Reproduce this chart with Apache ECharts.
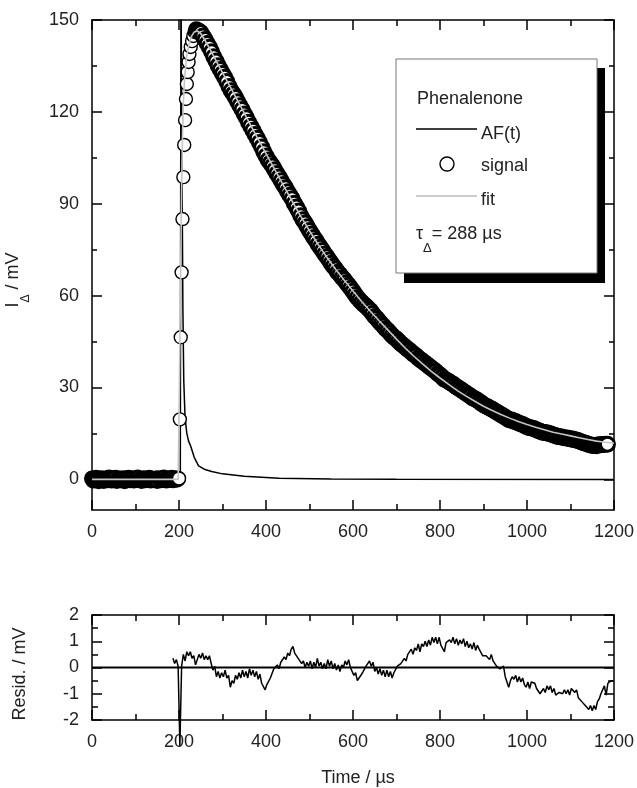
<!DOCTYPE html>
<html><head><meta charset="utf-8">
<script src="https://cdn.jsdelivr.net/npm/echarts@6/dist/echarts.min.js"></script>
<style>html,body{margin:0;padding:0;background:#fff}#c{width:637px;height:788px}</style>
</head><body><div id="c"></div>
<script>
// ---------- data ----------
// baseline circles before the laser pulse (t = 0..198 µs, every 3 µs)
const baseT0 = 0, baseDt = 3;
const baseValues = [
 0.3,-0.4,0.1,0.5,-0.2,-0.6,0.2,0.4,-0.1,-0.5,
 0.3,0.0,-0.3,0.6,0.1,-0.4,0.2,-0.2,0.5,-0.5,
 0.1,0.3,-0.3,0.0,0.4,-0.6,0.2,-0.1,0.5,-0.3,
 0.1,0.4,-0.4,-0.1,0.3,0.6,-0.2,0.0,-0.5,0.2,
 0.4,-0.3,0.1,-0.1,0.5,-0.4,0.2,0.0,-0.2,0.3,
 -0.5,0.4,0.1,-0.3,0.2,0.6,-0.1,-0.4,0.3,0.0,
 -0.2,0.5,-0.3,0.1,0.4,-0.1,0.2
];
// rising edge circles
const riseTimes  = [200,202,204,206,208,210,212,214,216,218,220,222,224,227,230,233,236];
const riseValues = [0.3,19.6,46.4,67.6,85.0,98.7,109.2,117.3,124.2,129.1,133.0,136.3,138.9,141.2,143.1,144.8,146.1];
// decay circles (t = 240..1185 µs, every 5 µs)
const decayT0 = 240, decayDt = 5;
const decayValues = [
 146.8,146.4,145.9,144.8,143.6,142.3,141.1,139.6,138.0,136.6,
 135.1,133.8,132.5,131.3,129.9,128.3,126.9,125.8,124.7,123.3,
 122.0,120.8,119.3,118.1,116.6,115.3,114.0,112.6,111.4,110.0,
 108.5,107.0,105.6,104.3,103.3,102.3,101.1,99.9,98.7,97.5,
 96.3,95.2,93.9,92.8,91.6,90.2,88.9,87.6,86.1,84.8,
 83.7,82.5,81.3,80.1,79.0,78.0,76.8,75.8,74.7,73.6,
 72.7,71.6,70.6,69.6,68.7,67.6,66.9,65.9,65.2,64.2,
 63.4,62.4,61.4,60.4,59.4,58.6,57.8,57.1,56.5,55.8,
 55.1,54.2,53.2,52.5,51.6,50.8,50.1,49.2,48.6,47.8,
 47.0,46.3,45.8,45.1,44.4,43.8,43.2,42.6,42.1,41.4,
 40.8,40.4,39.6,39.1,38.6,38.0,37.5,36.9,36.4,35.8,
 35.3,34.6,34.1,33.4,32.7,32.4,32.0,31.5,31.1,30.5,
 30.0,29.6,29.1,28.6,28.1,27.6,27.2,26.6,26.3,25.9,
 25.4,24.9,24.4,24.0,23.6,23.2,22.9,22.4,22.0,21.6,
 21.1,20.8,20.3,19.8,19.4,19.4,19.0,18.8,18.4,18.2,
 17.9,17.5,17.2,16.9,16.8,16.6,16.3,16.0,15.7,15.4,
 15.3,15.2,15.0,14.8,14.5,14.3,14.0,13.9,13.8,13.6,
 13.5,13.4,13.2,13.2,12.9,12.8,12.5,12.2,12.0,11.8,
 11.5,11.3,11.1,11.1,11.0,11.3,11.3,11.4,11.5,11.5
];
// AF(t) instrument response (black line)
const afTimes  = [0,203,204.5,207,209,211,214,218,222,227,235,245,260,275,300,350,430,550,700,1200];
const afValues = [0,0,165,100,55,32,20,15,12.5,10.8,7.2,4.4,3.2,2.6,1.8,1.0,0.4,0.15,0.05,0];
// fit (grey line)
const fitTimes  = [0,198,200,202,204,206,208,210,213,217,222,228,235,242,250,260,270,280,290,300,320,340,360,380,400,420,440,460,480,500,520,540,560,580,600,620,640,660,680,700,720,740,760,780,800,820,840,860,880,900,920,940,960,980,1000,1020,1040,1060,1080,1100,1120,1140,1160,1180,1200];
const fitValues = [0,0,20,45,70,95,112,123,131,137.5,141.5,144.5,146.1,146.4,145.6,143.3,140.8,138.1,135.4,132.8,127.6,122.3,116.9,111.6,106.4,101.2,96.0,90.9,85.9,81.2,76.7,72.5,68.6,65.0,61.5,58.1,54.9,51.8,48.8,45.8,42.9,40.2,37.7,35.3,33.1,31.0,29.0,27.2,25.5,23.9,22.5,21.2,20.0,18.9,17.9,17.0,16.2,15.4,14.8,14.2,13.6,13.0,12.5,12.1,11.8];
// residuals (t = 186..1198 µs, every 4 µs)
const residT0 = 186, residDt = 4;
const residValues = [
 0.35,0.15,0.3,0.05,-3.0,0.05,0.5,0.25,0.6,0.45,
 0.6,0.35,0.45,0.1,0.3,0.5,0.35,0.55,0.3,0.45,
 0.3,0.45,0.15,-0.1,0.05,-0.35,-0.15,-0.4,-0.2,-0.35,
 -0.1,-0.4,-0.3,-0.75,-0.5,-0.6,-0.3,-0.45,-0.2,-0.4,
 -0.1,-0.35,-0.15,-0.4,-0.05,-0.3,-0.1,-0.35,-0.15,-0.45,
 -0.25,-0.6,-0.55,-0.85,-0.65,-0.7,-0.4,-0.35,-0.05,0.0,
 0.1,-0.05,0.2,0.15,0.4,0.3,0.55,0.45,0.7,0.8,
 0.55,0.6,0.35,0.4,0.15,0.25,0.0,0.2,0.05,0.25,
 -0.05,0.2,0.0,0.35,0.05,0.2,-0.05,0.15,-0.05,0.3,
 0.05,0.25,-0.05,0.15,-0.1,0.1,-0.15,0.1,0.0,0.25,
 0.1,0.3,0.0,-0.05,-0.3,-0.2,-0.5,-0.4,-0.45,-0.2,
 -0.25,0.05,0.0,0.25,0.05,0.2,-0.15,0.0,-0.25,-0.05,
 -0.3,-0.1,-0.35,-0.1,-0.35,-0.15,-0.4,-0.2,-0.25,0.05,
 0.0,0.15,0.1,0.35,0.25,0.5,0.45,0.7,0.5,0.75,
 0.65,0.9,0.6,0.9,0.8,1.0,0.8,1.05,0.85,1.15,
 0.95,1.15,0.9,1.15,0.85,0.9,0.6,0.95,0.9,1.05,
 0.95,1.15,0.9,1.1,0.85,1.05,0.9,1.1,0.8,1.0,
 0.75,0.9,0.7,0.95,0.65,0.85,0.7,0.65,0.45,0.5,
 0.45,0.5,0.3,0.5,0.25,0.3,0.05,0.1,-0.05,-0.1,
 0.05,-0.35,-0.4,-0.75,-0.5,-0.35,-0.45,-0.3,-0.55,-0.35,
 -0.55,-0.4,-0.65,-0.75,-0.55,-0.8,-0.55,-0.6,-0.6,-0.8,
 -0.8,-1.0,-1.05,-0.8,-0.95,-0.7,-0.85,-0.7,-0.95,-0.8,
 -1.05,-1.1,-0.95,-1.0,-1.0,-0.85,-1.0,-0.85,-1.05,-0.8,
 -0.85,-0.95,-0.85,-1.15,-1.15,-1.3,-1.25,-1.45,-1.4,-1.6,
 -1.45,-1.65,-1.45,-1.6,-1.3,-1.2,-1.0,-0.95,-0.7,-1.05,
 -0.6,-0.55,-0.5,-0.5
];
// axis ticks / labels
const mainYLabels = [0,30,60,90,120,150];
const mainYMinor  = [15,45,75,105,135];
const residZero = [[0,0],[1200,0]];

// ---------- build ----------
const FONT = "'Liberation Sans', Arial, Helvetica, sans-serif";
const TXT = '#222';
const baseData = baseValues.map((v,i)=>[baseT0+i*baseDt, v]);
const riseData = riseValues.map((v,i)=>[riseTimes[i], v]);
const decayData = decayValues.map((v,i)=>[decayT0+i*decayDt, v]);
const afData = afTimes.map((t,i)=>[t, afValues[i]]);
const fitData = fitTimes.map((t,i)=>[t, fitValues[i]]);
const residData = residValues.map((v,i)=>[residT0+i*residDt, v]);

const lineS = {color:'#000', width:1.5};
const plain = v => String(v);
function xAx(grid, pos, labels){
  return {type:'value', gridIndex:grid, position:pos, min:0, max:1200, interval:200,
    axisLine:{show:true, onZero:false, lineStyle:lineS},
    axisTick:{show:true, inside:true, length:10, lineStyle:lineS},
    minorTick:{show:true, splitNumber:2, length:6, lineStyle:lineS},
    axisLabel:{show:labels, fontSize:18, color:TXT, fontFamily:FONT, margin:13, formatter:plain},
    splitLine:{show:false}, minorSplitLine:{show:false}};
}
function yMain(pos, labels, ticks, len, line){
  return {type:'value', gridIndex:0, position:pos, min:-10, max:150,
    axisLine:{show:line, onZero:false, lineStyle:lineS},
    axisTick:{show:true, inside:true, length:len, lineStyle:lineS, customValues:ticks},
    axisLabel:{show:labels, fontSize:18, color:TXT, fontFamily:FONT, margin:13, customValues:mainYLabels, formatter:plain},
    splitLine:{show:false}};
}
function yRes(pos, labels){
  return {type:'value', gridIndex:1, position:pos, min:-2, max:2, interval:1,
    axisLine:{show:true, onZero:false, lineStyle:lineS},
    axisTick:{show:true, inside:true, length:10, lineStyle:lineS},
    minorTick:{show:true, splitNumber:2, length:6, lineStyle:lineS},
    axisLabel:{show:labels, fontSize:18, color:TXT, fontFamily:FONT, margin:13, formatter:plain},
    splitLine:{show:false}, minorSplitLine:{show:false}};
}
const circleStyle = (bw)=>({color:'#fff', borderColor:'#000', borderWidth:bw, opacity:1});

const chart = echarts.init(document.getElementById('c'), null, {renderer:'canvas'});
chart.setOption({
  animation:false,
  backgroundColor:'#fff',
  grid:[{left:92, right:17, top:20, height:490},{left:92, right:17, top:615, height:105}],
  xAxis:[xAx(0,'bottom',true), xAx(0,'top',false), xAx(1,'bottom',true), xAx(1,'top',false)],
  yAxis:[yMain('left',true,mainYLabels,10,true), yMain('left',false,mainYMinor,5,false),
         yMain('right',false,mainYLabels,10,true), yMain('right',false,mainYMinor,5,false),
         yRes('left',true), yRes('right',false)],
  series:[
    {type:'line', name:'AF(t)', xAxisIndex:0, yAxisIndex:0, data:afData, showSymbol:false,
     lineStyle:{color:'#000', width:1.5}, z:2},
    {type:'scatter', name:'signal', xAxisIndex:0, yAxisIndex:0, data:baseData, symbol:'circle',
     symbolSize:13, clip:false, itemStyle:circleStyle(3), z:3},
    {type:'scatter', name:'signal', xAxisIndex:0, yAxisIndex:0, data:riseData, symbol:'circle',
     symbolSize:13, clip:false, itemStyle:circleStyle(1.4), z:3},
    {type:'scatter', name:'signal', xAxisIndex:0, yAxisIndex:0, data:decayData, symbol:'circle',
     symbolSize:14, clip:false, itemStyle:circleStyle(3), z:3},
    {type:'line', name:'fit', xAxisIndex:0, yAxisIndex:0, data:fitData, showSymbol:false,
     lineStyle:{color:'#c4c4c4', width:1.6}, z:4},
    {type:'line', xAxisIndex:2, yAxisIndex:4, data:residZero, showSymbol:false,
     lineStyle:{color:'#000', width:2}, z:2},
    {type:'line', name:'resid', xAxisIndex:2, yAxisIndex:4, data:residData, showSymbol:false, clip:false,
     lineStyle:{color:'#000', width:1.5}, z:3}
  ],
  graphic:[
    {type:'rect', shape:{x:404, y:68, width:201, height:215}, style:{fill:'#000'}, z:100},
    {type:'rect', shape:{x:396, y:59, width:201, height:214}, style:{fill:'#fff', stroke:'#777', lineWidth:1}, z:101},
    {type:'text', x:417, y:99, style:{text:'Phenalenone', fontSize:18, fontFamily:FONT, fill:TXT, align:'left', verticalAlign:'middle'}, z:102},
    {type:'line', shape:{x1:416, y1:129, x2:477, y2:129}, style:{stroke:'#000', lineWidth:1.5}, z:102},
    {type:'text', x:481, y:134, style:{text:'AF(t)', fontSize:18, fontFamily:FONT, fill:TXT, align:'left', verticalAlign:'middle'}, z:102},
    {type:'circle', shape:{cx:447, cy:164, r:7}, style:{fill:'#fff', stroke:'#000', lineWidth:1.4}, z:102},
    {type:'text', x:481, y:166, style:{text:'signal', fontSize:18, fontFamily:FONT, fill:TXT, align:'left', verticalAlign:'middle'}, z:102},
    {type:'line', shape:{x1:416, y1:196, x2:477, y2:196}, style:{stroke:'#bdbdbd', lineWidth:1.5}, z:102},
    {type:'text', x:481, y:200, style:{text:'fit', fontSize:18, fontFamily:FONT, fill:TXT, align:'left', verticalAlign:'middle'}, z:102},
    {type:'text', x:416, y:240, style:{text:'{a|τ}{b|Δ}{a|= 288 µs}', fill:TXT, align:'left', verticalAlign:'middle',
      rich:{a:{fontSize:18, fontFamily:FONT, lineHeight:19, verticalAlign:'top', fill:TXT},
            b:{fontSize:13, fontFamily:FONT, lineHeight:29, verticalAlign:'bottom', fill:TXT}}}, z:102},
    {type:'text', x:18, y:280, rotation:Math.PI/2, style:{text:'{a|I}{b|Δ}{a| / mV}', fill:TXT, align:'center', verticalAlign:'middle',
      rich:{a:{fontSize:18, fontFamily:FONT, lineHeight:19, verticalAlign:'top', fill:TXT},
            b:{fontSize:12, fontFamily:FONT, lineHeight:27, verticalAlign:'bottom', fill:TXT}}}, z:102},
    {type:'text', x:20, y:674, rotation:Math.PI/2, style:{text:'Resid. / mV', fontSize:18, fontFamily:FONT, fill:TXT, align:'center', verticalAlign:'middle'}, z:102},
    {type:'text', x:358, y:778, style:{text:'Time / µs', fontSize:18, fontFamily:FONT, fill:TXT, align:'center', verticalAlign:'middle'}, z:102}
  ]
});
</script></body></html>
